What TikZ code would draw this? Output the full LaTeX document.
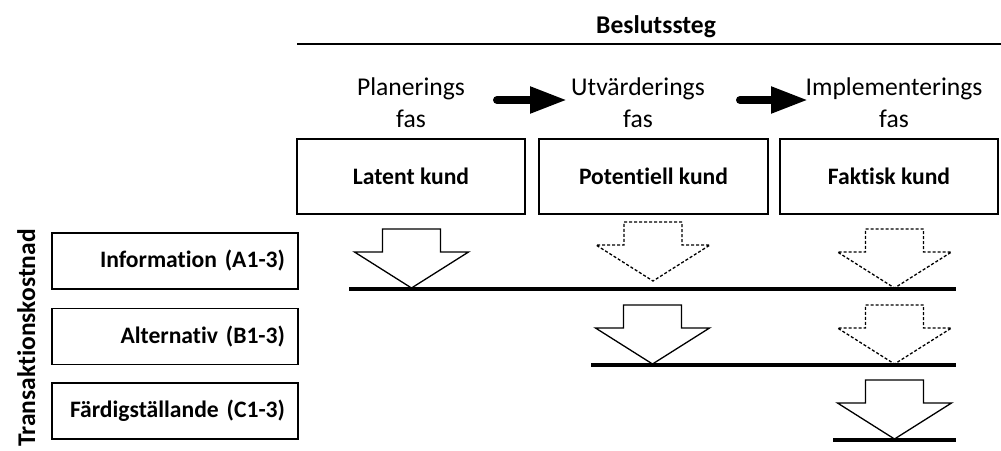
\documentclass[tikz,border=0pt]{standalone}
\usepackage{fontspec}
\setmainfont{Carlito}[Ligatures={NoCommon}]
\usetikzlibrary{arrows.meta}
\begin{document}
\begin{tikzpicture}[x=1pt,y=-1pt,
  boxb/.style={draw, line width=1.3pt, minimum width=228pt, minimum height=75pt, inner sep=0pt,
    font=\bfseries\fontsize{23.6}{26}\selectfont},
  rowbox/.style={draw, line width=1.3pt, minimum height=56pt, text width=220pt, inner xsep=13pt,
    inner ysep=0pt, align=right, font=\bfseries\fontsize{23.6}{26}\selectfont},
  phase/.style={font=\fontsize{25.6}{32}\selectfont, inner sep=0pt},
  flow/.style={line width=8pt, line cap=round, -{Triangle[length=37pt,width=25pt]}},
  costline/.style={line width=3.6pt},
  barrow/.style={draw, line width=1.3pt, fill=white, line join=miter},
  darrow/.style={barrow, dash pattern=on 3pt off 2pt}
]
\useasboundingbox (0,0) rectangle (1001,450);

% title
\node[font=\bfseries\fontsize{25.5}{30}\selectfont, anchor=base, inner sep=0pt] (title) at (656,33) {Beslutssteg};
\draw[line width=1.2pt] (297,44) -- (1001,44);

% phase labels
\node[phase, anchor=base] (plan) at (411,95) {Planerings};
\node[phase, anchor=base] (planf) at (411,127) {fas};
\node[phase, anchor=base] (utv) at (638,95) {Utvärderings};
\node[phase, anchor=base] (utvf) at (638,127) {fas};
\node[phase, anchor=base] (impl) at (894,95) {Implementerings};
\node[phase, anchor=base] (implf) at (894,127) {fas};

\coordinate (a1s) at (497,100);
\coordinate (a1e) at (567,100);
\coordinate (a2s) at (740,100);
\coordinate (a2e) at (808,100);
\draw[flow] (a1s) -- (a1e);
\draw[flow] (a2s) -- (a2e);

% customer boxes
\node[boxb] (latent) at (411,176.5) {Latent kund};
\node[boxb, minimum width=229pt] (pot) at (653.5,176.5) {Potentiell kund};
\node[boxb, minimum width=218pt] (fakt) at (889,176.5) {Faktisk kund};

% cost boxes
\node[rowbox] (info) at (175,261) {Information (A1-3)};
\node[rowbox] (alt) at (175,336.5) {Alternativ (B1-3)};
\node[rowbox] (fard) at (175,411) {Färdigställande (C1-3)};

\node[rotate=90, font=\bfseries\fontsize{25.5}{30}\selectfont, anchor=base, inner sep=0pt] (tk) at (35,338) {Transaktionskostnad};

% cost lines
\coordinate (l1a) at (349,289); \coordinate (l1b) at (956,289);
\coordinate (l2a) at (591,365); \coordinate (l2b) at (956,365);
\coordinate (l3a) at (833,440); \coordinate (l3b) at (956,440);

% block arrows: center x, top y
\newcommand{\blockarr}[3]{%
  \draw[#1] (#2-29,#3) -- (#2+29,#3) -- (#2+29,#3+23) -- (#2+57,#3+23) -- (#2,#3+59) -- (#2-57,#3+23) -- (#2-29,#3+23) -- cycle;}
\blockarr{barrow}{411.5}{229}
\blockarr{darrow}{653}{222}
\blockarr{darrow}{894.5}{229}
\blockarr{barrow}{652.5}{305}
\blockarr{darrow}{894.5}{305}
\blockarr{barrow}{894.5}{380}

\draw[costline] (l1a) -- (l1b);
\draw[costline] (l2a) -- (l2b);
\draw[costline] (l3a) -- (l3b);
\end{tikzpicture}
\end{document}
